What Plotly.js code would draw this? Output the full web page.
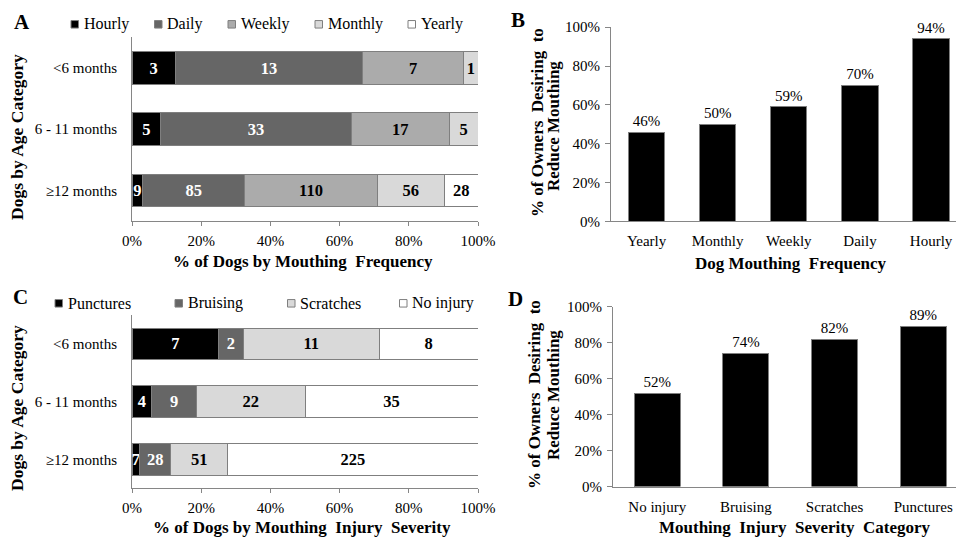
<!DOCTYPE html>
<html>
<head>
<meta charset="utf-8">
<script src="https://cdn.plot.ly/plotly-3.0.1.min.js"></script>
<style>
  html, body { margin: 0; padding: 0; background: #fff; }
  #chart { width: 956px; height: 537px; }
</style>
</head>
<body>
<div id="chart"></div>
<script>
// ---- Data ----
const ageGroups = ['<6 months', '6 - 11 months', '\u226512 months'];

// Panel A: number of dogs by mouthing frequency within each age group
const freqNames = ['Hourly', 'Daily', 'Weekly', 'Monthly', 'Yearly'];
const hourlyCounts = [3, 5, 9];
const dailyCounts = [13, 33, 85];
const weeklyCounts = [7, 17, 110];
const monthlyCounts = [1, 5, 56];
const yearlyCounts = [0, 0, 28];

// Panel C: number of dogs by mouthing injury severity within each age group
const injuryNames = ['Punctures', 'Bruising', 'Scratches', 'No injury'];
const punctureCounts = [7, 4, 7];
const bruisingCounts = [2, 9, 28];
const scratchCounts = [11, 22, 51];
const noInjuryCounts = [8, 35, 225];

// Panel B: % of owners wanting less mouthing, by mouthing frequency
const freqCategories = ['Yearly', 'Monthly', 'Weekly', 'Daily', 'Hourly'];
const reducePctByFreq = [46, 50, 59, 70, 94];

// Panel D: % of owners wanting less mouthing, by injury severity
const injuryCategories = ['No injury', 'Bruising', 'Scratches', 'Punctures'];
const reducePctByInjury = [52, 74, 82, 89];

// Percentage axis ticks
const pctTicks = [0, 20, 40, 60, 80, 100];
const pctTickText = pctTicks.map(v => v + '%');

// ---- Styling ----
const W = 956, H = 537;
const px = x => x / W;
const py = y => 1 - y / H;
const FONT = '"Liberation Serif", "Times New Roman", "DejaVu Serif", serif';
const AXIS_GREY = '#868686';

const freqColors = ['#000000', '#666666', '#ababab', '#d9d9d9', '#ffffff'];
const freqText = ['#ffffff', '#ffffff', '#000000', '#000000', '#000000'];
const injuryColors = ['#000000', '#666666', '#d9d9d9', '#ffffff'];
const injuryText = ['#ffffff', '#ffffff', '#000000', '#000000'];

// Convert the per-series counts into row percentages so every bar sums to 100%
function rowTotals(seriesList) {
  return ageGroups.map((_, i) => seriesList.reduce((s, arr) => s + arr[i], 0));
}

function stackedTraces(seriesList, names, colors, textColors, xa, ya) {
  const totals = rowTotals(seriesList);
  return seriesList.map((counts, k) => ({
    type: 'bar',
    orientation: 'h',
    name: names[k],
    y: ageGroups,
    x: counts.map((c, i) => c / totals[i] * 100),
    text: counts.map(c => (c > 0 ? String(c) : '')),
    textposition: 'inside',
    insidetextanchor: 'middle',
    textangle: 0,
    constraintext: 'none',
    insidetextfont: { family: FONT, size: 16.5, color: textColors[k], weight: 'bold' },
    marker: { color: colors[k], line: { color: '#7f7f7f', width: 1 } },
    width: ya === 'y' ? 0.53 : 0.55,
    xaxis: xa,
    yaxis: ya,
    showlegend: false,
    hoverinfo: 'skip'
  }));
}

const traces = [
  ...stackedTraces([hourlyCounts, dailyCounts, weeklyCounts, monthlyCounts, yearlyCounts],
    freqNames, freqColors, freqText, 'x', 'y'),
  ...stackedTraces([punctureCounts, bruisingCounts, scratchCounts, noInjuryCounts],
    injuryNames, injuryColors, injuryText, 'x3', 'y3'),
  {
    type: 'bar',
    x: freqCategories,
    y: reducePctByFreq,
    text: reducePctByFreq.map(v => v + '%'),
    textposition: 'outside',
    textangle: 0,
    cliponaxis: false,
    outsidetextfont: { family: FONT, size: 15, color: '#000' },
    marker: { color: '#000', line: { color: '#7f7f7f', width: 1 } },
    width: 0.51,
    xaxis: 'x2', yaxis: 'y2',
    showlegend: false, hoverinfo: 'skip'
  },
  {
    type: 'bar',
    x: injuryCategories,
    y: reducePctByInjury,
    text: reducePctByInjury.map(v => v + '%'),
    textposition: 'outside',
    textangle: 0,
    cliponaxis: false,
    outsidetextfont: { family: FONT, size: 15, color: '#000' },
    marker: { color: '#000', line: { color: '#7f7f7f', width: 1 } },
    width: 0.52,
    xaxis: 'x4', yaxis: 'y4',
    showlegend: false, hoverinfo: 'skip'
  }
];

const tickFont = { family: FONT, size: 15, color: '#000' };

const pctAxisH = (domain, anchor) => ({
  domain, anchor, range: [0, 100], tickmode: 'array', tickvals: pctTicks, ticktext: pctTickText,
  showgrid: false, zeroline: false, showline: true, linecolor: AXIS_GREY, linewidth: 1,
  ticks: 'outside', ticklen: 4, tickcolor: AXIS_GREY, tickfont: tickFont,
  ticklabelstandoff: 2, fixedrange: true
});
const ageAxis = (domain, anchor) => ({
  domain, anchor, type: 'category', categoryarray: ageGroups, range: [2.5, -0.5],
  showgrid: false, zeroline: false, showline: true, linecolor: AXIS_GREY, linewidth: 1,
  ticks: '', tickfont: tickFont, ticklabelstandoff: 11, fixedrange: true
});
const pctAxisV = (domain, anchor) => ({
  domain, anchor, range: [0, 100], tickmode: 'array', tickvals: pctTicks, ticktext: pctTickText,
  showgrid: false, zeroline: false, showline: true, linecolor: AXIS_GREY, linewidth: 1,
  ticks: 'outside', ticklen: 5, tickcolor: AXIS_GREY, tickfont: tickFont,
  ticklabelstandoff: 2, fixedrange: true
});
const catAxis = (domain, anchor, cats, range) => ({
  domain, anchor, type: 'category', categoryarray: cats, range,
  showgrid: false, zeroline: false, showline: true, linecolor: AXIS_GREY, linewidth: 1,
  ticks: '', tickfont: tickFont, ticklabelstandoff: 6, fixedrange: true
});

// ---- Text: panel letters, axis titles, legends ----
const annotations = [];
const shapes = [];

function label(text, x, y, opts = {}) {
  annotations.push(Object.assign({
    text, xref: 'paper', yref: 'paper', x: px(x), y: py(y),
    xanchor: 'center', yanchor: 'middle', showarrow: false,
    font: { family: FONT, size: 17, color: '#000', weight: 'bold' }
  }, opts));
}

// Panel letters
const letterFont = { family: FONT, size: 21, color: '#000', weight: 'bold' };
label('A', 22, 22, { font: letterFont });
label('B', 518, 20, { font: letterFont });
label('C', 20, 297, { font: letterFont });
label('D', 515, 299, { font: letterFont });

// Axis titles
const yTitleFont = { family: FONT, size: 17.5, color: '#000', weight: 'bold' };
label('Dogs by Age Category', 17, 137, { textangle: -90, font: yTitleFont });
label('Dogs by Age Category', 17, 408, { textangle: -90, font: yTitleFont });
label('% of Dogs by Mouthing\u00a0 Frequency', 303, 261);
label('% of Dogs by Mouthing\u00a0 Injury\u00a0 Severity', 302, 527);
label('Dog Mouthing\u00a0 Frequency', 790, 263);
label('Mouthing\u00a0 Injury\u00a0 Severity\u00a0 Category', 795, 527);
label('% of Owners\u00a0 Desiring\u00a0 to', 537, 123, { textangle: -90 });
label('Reduce Mouthing', 554, 126, { textangle: -90 });
label('% of Owners\u00a0 Desiring\u00a0 to', 535, 395, { textangle: -90 });
label('Reduce Mouthing', 554, 395, { textangle: -90 });

// Legend keys: small outlined squares followed by the series names
function legendRow(names, colors, squareX, yMid) {
  names.forEach((name, k) => {
    const x0 = squareX[k];
    shapes.push({
      type: 'rect', xref: 'paper', yref: 'paper',
      x0: px(x0), x1: px(x0 + 7.5), y0: py(yMid + 3.75), y1: py(yMid - 3.75),
      fillcolor: colors[k], line: { color: '#7f7f7f', width: 1 }
    });
    label(name, x0 + 10.5, yMid, {
      xanchor: 'left',
      font: { family: FONT, size: 16, color: '#000' }
    });
  });
}
legendRow(freqNames, freqColors, [71, 154.5, 228, 315, 408], 24.3);
legendRow(injuryNames, injuryColors, [55, 175, 287.5, 399.5], 303.3);

const layout = {
  width: W, height: H,
  margin: { l: 0, r: 0, t: 0, b: 0 },
  paper_bgcolor: '#fff', plot_bgcolor: '#fff',
  barmode: 'stack',
  showlegend: false,
  font: { family: FONT, color: '#000' },
  xaxis: pctAxisH([px(132), px(478)], 'y'),
  yaxis: ageAxis([py(221), py(37.4)], 'x'),
  xaxis2: catAxis([px(611), 1], 'y2', freqCategories, [-0.5, 4.35]),
  yaxis2: pctAxisV([py(221.3), py(27.2)], 'x2'),
  xaxis3: pctAxisH([px(132), px(478)], 'y3'),
  yaxis3: ageAxis([py(488.4), py(315.1)], 'x3'),
  xaxis4: catAxis([px(613), 1], 'y4', injuryCategories, [-0.5, 3.37]),
  yaxis4: pctAxisV([py(486.5), py(306.7)], 'x4'),
  annotations, shapes
};

Plotly.newPlot('chart', traces, layout, { staticPlot: true, displayModeBar: false });
</script>
</body>
</html>
